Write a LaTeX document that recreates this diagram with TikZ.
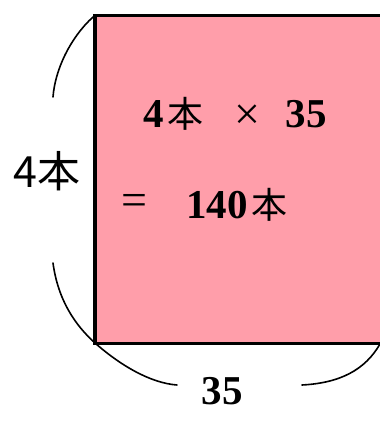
\documentclass[tikz,border=0pt]{standalone}
\usepackage{fontspec}
\setmainfont{Liberation Serif}
\newfontfamily\jpfont{Noto Sans CJK JP}
\definecolor{boxpink}{RGB}{255,158,170}
\begin{document}
\begin{tikzpicture}[x=1pt,y=1pt,
  dig/.style={inner sep=0pt,font=\fontsize{41}{44}\selectfont\bfseries},
  hon/.style={inner sep=0pt,font=\fontsize{36}{40}\selectfont\jpfont},
  opsym/.style={inner sep=0pt,font=\fontsize{46}{50}\selectfont},
  bracearc/.style={line width=1.6pt,line cap=round}]
\clip (0,0) rectangle (380,423);
\fill[white] (0,0) rectangle (380,423);
\draw[fill=boxpink,line width=3.8pt] (95,423-15.5) rectangle (400,423-343.5);
% inside text
\node[dig] (n4) at (154,423-114) {4};
\node[hon] (h1) at (185.5,423-114) {本};
\node[opsym] (times) at (247,423-117) {×};
\node[dig] (n35) at (306,423-114) {35};
\node[opsym] (eq) at (134,423-205) {=};
\node[dig] (n140) at (217,423-205) {140};
\node[hon] (h2) at (269,423-205) {本};
% side labels
\node[inner sep=0pt,font=\fontsize{43}{46}\selectfont\jpfont] (left) at (47,423-171) {4本};
\node[dig] (bottom) at (222,423-391) {35};
% arcs
\draw[bracearc] (93,423-17) .. controls (70,423-38) and (55,423-70) .. (53,423-97);
\draw[bracearc] (53,423-263) .. controls (58,423-300) and (75,423-325) .. (95,423-343)
  .. controls (120,423-365) and (150,423-383) .. (177,423-385);
\draw[bracearc] (302,423-385) .. controls (340,423-383) and (365,423-370) .. (380,423-344);
\end{tikzpicture}
\end{document}
